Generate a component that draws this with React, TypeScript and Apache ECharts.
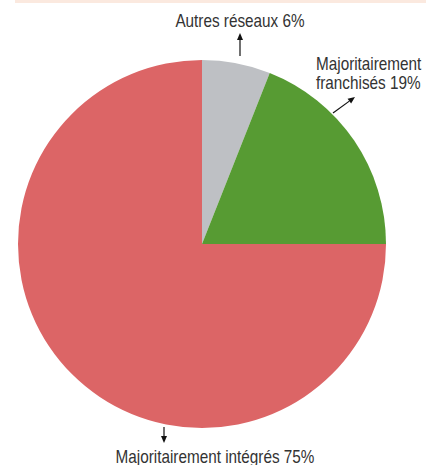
import React, { useEffect, useRef } from "react";
import * as echarts from "echarts";

const categories = ["Autres réseaux", "Majoritairement franchisés", "Majoritairement intégrés"];
const values = [6, 19, 75];
const colors = ["#bec0c4", "#579b33", "#dc6566"];

const FONT = "'Liberation Sans', Arial, sans-serif";

function arrow(x1: number, y1: number, x2: number, y2: number) {
  const a = Math.atan2(y2 - y1, x2 - x1);
  const L = 7, W = 3;
  const bx = x2 - L * Math.cos(a), by = y2 - L * Math.sin(a);
  const px = -Math.sin(a) * W, py = Math.cos(a) * W;
  return [
    { type: "line", shape: { x1, y1, x2: bx, y2: by }, style: { stroke: "#111", lineWidth: 1.2 } },
    {
      type: "polygon",
      shape: { points: [[x2, y2], [bx + px, by + py], [bx - px, by - py]] },
      style: { fill: "#111" },
    },
  ];
}

// label anchor and wrapping per slice
const labelPos = [
  { x: 240, y: 21, align: "center", wrap: false },
  { x: 316, y: 74, align: "left", wrap: true },
  { x: 215, y: 457, align: "center", wrap: false },
];

function labelText(i: number) {
  const name = categories[i];
  const pct = `${values[i]}%`;
  if (labelPos[i].wrap) {
    const parts = name.split(" ");
    return `${parts[0]}\n${parts.slice(1).join(" ")} ${pct}`;
  }
  return `${name} ${pct}`;
}

export default function App() {
  const ref = useRef<HTMLDivElement>(null);
  useEffect(() => {
    const chart = echarts.init(ref.current!, null, { renderer: "svg" });
    const labels = categories.map((_, i) => ({
      type: "text",
      x: labelPos[i].x,
      y: labelPos[i].y,
      scaleX: 0.85,
      style: {
        text: labelText(i),
        fill: "#333",
        font: `18px ${FONT}`,
        fontSize: 18,
        fontFamily: FONT,
        lineHeight: 19,
        textAlign: labelPos[i].align,
        textVerticalAlign: "middle",
      },
    }));
    chart.setOption({
      animation: false,
      backgroundColor: "#ffffff",
      graphic: [
        { type: "rect", shape: { x: 15, y: 0, width: 411, height: 3 }, style: { fill: "#fbe9df" } },
        ...arrow(240, 56, 240, 33),
        ...arrow(333, 113, 355, 97),
        ...arrow(164, 427, 164, 443),
        ...labels,
      ],
      series: [
        {
          type: "pie",
          center: [202, 244],
          radius: 184,
          startAngle: 90,
          clockwise: true,
          silent: true,
          itemStyle: { borderWidth: 0 },
          labelLine: { show: false },
          label: { show: false },
          data: categories.map((name, i) => ({
            name,
            value: values[i],
            itemStyle: { color: colors[i] },
          })),
        },
      ],
    });
    return () => chart.dispose();
  }, []);
  return <div ref={ref} style={{ position: "fixed", left: 0, top: 0, width: 426, height: 465 }} />;
}
